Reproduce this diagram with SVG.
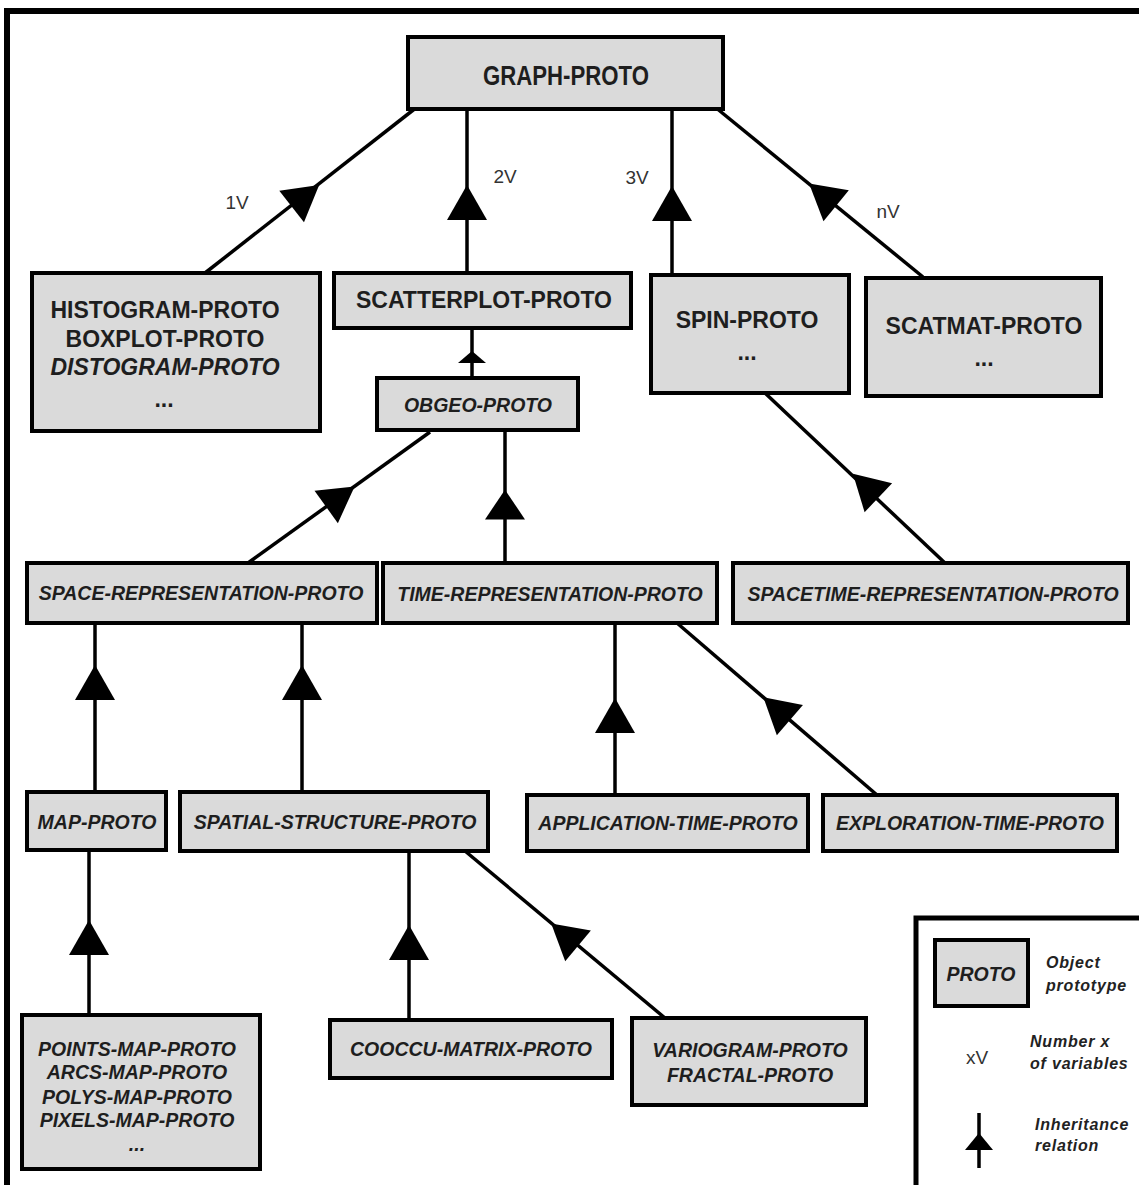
<svg xmlns="http://www.w3.org/2000/svg" xmlns:xlink="http://www.w3.org/1999/xlink" width="1139" height="1185" viewBox="0 0 1139 1185">
  <style>
    .box { fill: #dadada; stroke: #000; stroke-width: 4; }
    .lbl { font-family: "Liberation Sans", Arial, sans-serif; font-weight: bold; fill: #1e1e1e; text-anchor: middle; }
    .up { font-size: 23px; }
    .it { font-size: 19.5px; font-style: italic; }
    .edge { stroke: #000; stroke-width: 3.5; fill: none; }
    .vl { font-family: "Liberation Sans", Arial, sans-serif; font-size: 19px; fill: #333; text-anchor: middle; }
    .leg { font-family: "Liberation Sans", Arial, sans-serif; font-size: 16px; letter-spacing: 0.8px; font-style: italic; font-weight: bold; fill: #222; }
  </style>
  <defs>
    <!-- solid inheritance arrowhead, apex pointing up at rotation 0 -->
    <path id="ah" d="M0,-18 L20,17 L-20,17 Z" fill="#000"/>
  </defs>

  <rect width="1139" height="1185" fill="#fff"/>

  <!-- outer frame -->
  <path d="M7,1185 V11 H1139" stroke="#000" stroke-width="6" fill="none"/>

  <!-- connectors -->
  <g id="connectors">
    <!-- GRAPH-PROTO children -->
    <line class="edge" x1="417" y1="107" x2="205" y2="273"/>
    <use xlink:href="#ah" transform="translate(305,196) rotate(51.9)"/>
    <line class="edge" x1="467" y1="109" x2="467" y2="273"/>
    <use xlink:href="#ah" transform="translate(467,203)"/>
    <line class="edge" x1="672" y1="109" x2="672" y2="275"/>
    <use xlink:href="#ah" transform="translate(672,204)"/>
    <line class="edge" x1="715" y1="107" x2="923" y2="277"/>
    <use xlink:href="#ah" transform="translate(823,195) rotate(-50.7)"/>

    <!-- SCATTERPLOT-PROTO to OBGEO-PROTO -->
    <line class="edge" x1="472" y1="328" x2="472" y2="378"/>
    <path d="M472,351 L486,363 L458,363 Z" fill="#000"/>

    <!-- OBGEO-PROTO children -->
    <line class="edge" x1="430" y1="432" x2="248" y2="563"/>
    <use xlink:href="#ah" transform="translate(340,497) rotate(54.3)"/>
    <line class="edge" x1="505" y1="430" x2="505" y2="563"/>
    <use xlink:href="#ah" transform="translate(505,505) scale(1,0.85)"/>

    <!-- SPIN-PROTO to SPACETIME -->
    <line class="edge" x1="765" y1="393" x2="945" y2="563"/>
    <use xlink:href="#ah" transform="translate(866,486) rotate(-46.6)"/>

    <!-- SPACE-REPRESENTATION children -->
    <line class="edge" x1="95" y1="623" x2="95" y2="792"/>
    <use xlink:href="#ah" transform="translate(95,683)"/>
    <line class="edge" x1="302" y1="623" x2="302" y2="792"/>
    <use xlink:href="#ah" transform="translate(302,683)"/>

    <!-- TIME-REPRESENTATION children -->
    <line class="edge" x1="615" y1="623" x2="615" y2="795"/>
    <use xlink:href="#ah" transform="translate(615,716)"/>
    <line class="edge" x1="677" y1="623" x2="877" y2="795"/>
    <use xlink:href="#ah" transform="translate(777,709) rotate(-49.3)"/>

    <!-- MAP-PROTO child -->
    <line class="edge" x1="89" y1="850" x2="89" y2="1015"/>
    <use xlink:href="#ah" transform="translate(89,938)"/>

    <!-- SPATIAL-STRUCTURE children -->
    <line class="edge" x1="409" y1="851" x2="409" y2="1020"/>
    <use xlink:href="#ah" transform="translate(409,943)"/>
    <line class="edge" x1="465" y1="851" x2="665" y2="1018"/>
    <use xlink:href="#ah" transform="translate(565,935) rotate(-50.1)"/>
  </g>

  <!-- variable count labels -->
  <g id="var-labels">
    <text class="vl" x="237" y="209">1V</text>
    <text class="vl" x="505" y="183">2V</text>
    <text class="vl" x="637" y="184">3V</text>
    <text class="vl" x="888" y="218">nV</text>
  </g>

  <g id="graph-proto">
    <rect class="box" x="408" y="37" width="315" height="72"/>
    <text class="lbl" x="566" y="85" font-size="27" textLength="166" lengthAdjust="spacingAndGlyphs">GRAPH-PROTO</text>
  </g>

  <g id="histogram-proto">
    <rect class="box" x="32" y="273" width="288" height="158"/>
    <text class="lbl up" x="165" y="318">HISTOGRAM-PROTO</text>
    <text class="lbl up" x="165" y="347">BOXPLOT-PROTO</text>
    <text class="lbl up" x="165" y="375" font-style="italic">DISTOGRAM-PROTO</text>
    <text class="lbl up" x="164" y="407">...</text>
  </g>

  <g id="scatterplot-proto">
    <rect class="box" x="334" y="273" width="297" height="55"/>
    <text class="lbl up" x="484" y="308">SCATTERPLOT-PROTO</text>
  </g>

  <g id="spin-proto">
    <rect class="box" x="651" y="275" width="198" height="118"/>
    <text class="lbl up" x="747" y="328">SPIN-PROTO</text>
    <text class="lbl up" x="747" y="360">...</text>
  </g>

  <g id="scatmat-proto">
    <rect class="box" x="866" y="278" width="235" height="118"/>
    <text class="lbl up" x="984" y="334">SCATMAT-PROTO</text>
    <text class="lbl up" x="984" y="366">...</text>
  </g>

  <g id="obgeo-proto">
    <rect class="box" x="377" y="378" width="201" height="52"/>
    <text class="lbl it" x="478" y="412" font-size="21">OBGEO-PROTO</text>
  </g>

  <g id="space-representation-proto">
    <rect class="box" x="27" y="563" width="350" height="60"/>
    <text class="lbl it" x="201" y="600">SPACE-REPRESENTATION-PROTO</text>
  </g>

  <g id="time-representation-proto">
    <rect class="box" x="383" y="563" width="334" height="60"/>
    <text class="lbl it" x="550" y="601">TIME-REPRESENTATION-PROTO</text>
  </g>

  <g id="spacetime-representation-proto">
    <rect class="box" x="733" y="563" width="395" height="60"/>
    <text class="lbl it" x="933" y="601">SPACETIME-REPRESENTATION-PROTO</text>
  </g>

  <g id="map-proto">
    <rect class="box" x="27" y="792" width="139" height="58"/>
    <text class="lbl it" x="97" y="829">MAP-PROTO</text>
  </g>

  <g id="spatial-structure-proto">
    <rect class="box" x="180" y="792" width="308" height="59"/>
    <text class="lbl it" x="335" y="829">SPATIAL-STRUCTURE-PROTO</text>
  </g>

  <g id="application-time-proto">
    <rect class="box" x="527" y="795" width="281" height="56"/>
    <text class="lbl it" x="668" y="830">APPLICATION-TIME-PROTO</text>
  </g>

  <g id="exploration-time-proto">
    <rect class="box" x="823" y="795" width="294" height="56"/>
    <text class="lbl it" x="970" y="830">EXPLORATION-TIME-PROTO</text>
  </g>

  <g id="points-map-proto">
    <rect class="box" x="22" y="1015" width="238" height="154"/>
    <text class="lbl it" x="137" y="1056">POINTS-MAP-PROTO</text>
    <text class="lbl it" x="137" y="1079">ARCS-MAP-PROTO</text>
    <text class="lbl it" x="137" y="1104">POLYS-MAP-PROTO</text>
    <text class="lbl it" x="137" y="1127">PIXELS-MAP-PROTO</text>
    <text class="lbl it" x="137" y="1151">...</text>
  </g>

  <g id="cooccu-matrix-proto">
    <rect class="box" x="330" y="1020" width="282" height="58"/>
    <text class="lbl it" x="471" y="1056">COOCCU-MATRIX-PROTO</text>
  </g>

  <g id="variogram-proto">
    <rect class="box" x="632" y="1018" width="234" height="87"/>
    <text class="lbl it" x="750" y="1057">VARIOGRAM-PROTO</text>
    <text class="lbl it" x="750" y="1082">FRACTAL-PROTO</text>
  </g>

  <!-- legend -->
  <g id="legend">
    <path d="M916,1185 V918 H1139" stroke="#000" stroke-width="5" fill="none"/>
    <rect class="box" x="935" y="940" width="93" height="66"/>
    <text class="lbl it" x="981" y="981" font-size="17">PROTO</text>
    <text class="leg" x="1046" y="968">Object</text>
    <text class="leg" x="1046" y="991">prototype</text>
    <text class="vl" x="977" y="1064" font-size="17">xV</text>
    <text class="leg" x="1030" y="1047">Number x</text>
    <text class="leg" x="1030" y="1069">of variables</text>
    <line class="edge" x1="979" y1="1113" x2="979" y2="1168"/>
    <path d="M979,1133 L993,1150 L965,1150 Z" fill="#000"/>
    <text class="leg" x="1035" y="1130">Inheritance</text>
    <text class="leg" x="1035" y="1151">relation</text>
  </g>
</svg>
